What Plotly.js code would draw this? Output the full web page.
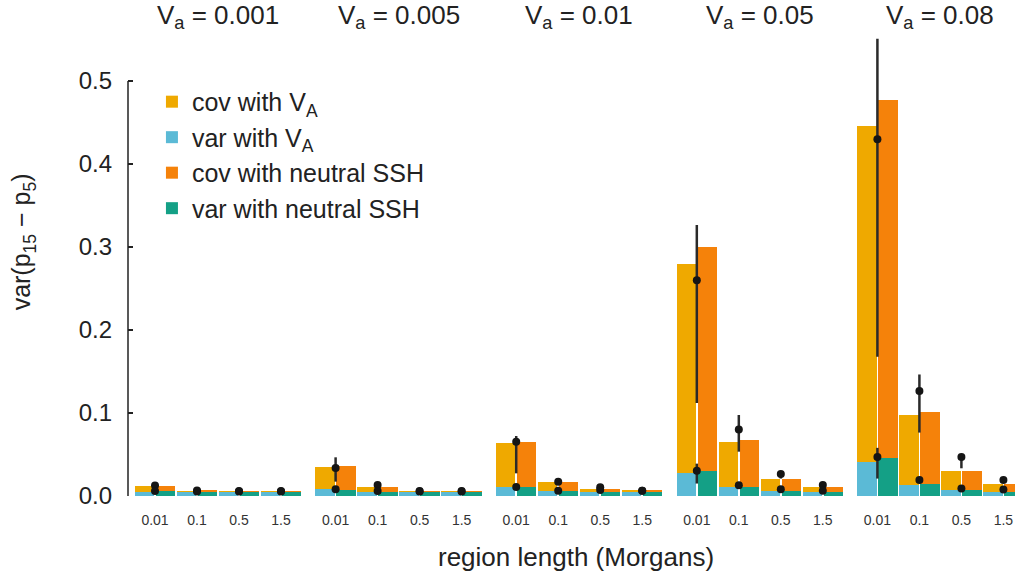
<!DOCTYPE html>
<html>
<head>
<meta charset="utf-8">
<script src="https://cdn.plot.ly/plotly-3.0.1.min.js"></script>
<style>html,body{margin:0;padding:0;background:#fff;}#chart{width:1015px;height:578px;}</style>
</head>
<body>
<div id="chart"></div>
<script>
// ---- data ----
const vaLabels = ['0.001', '0.005', '0.01', '0.05', '0.08'];
const regionLabels = ['0.01', '0.1', '0.5', '1.5'];

// stacked segments, listed group by group (V_a), 4 region lengths each
const varVA = [0.0050, 0.0048, 0.0048, 0.0048,
               0.0080, 0.0052, 0.0048, 0.0048,
               0.0104, 0.0060, 0.0052, 0.0052,
               0.0273, 0.0104, 0.0064, 0.0052,
               0.0404, 0.0131, 0.0070, 0.0050];
const covVA = [0.0070, 0.0016, 0.0008, 0.0008,
               0.0273, 0.0060, 0.0016, 0.0012,
               0.0539, 0.0105, 0.0032, 0.0020,
               0.2527, 0.0551, 0.0145, 0.0060,
               0.4056, 0.0843, 0.0236, 0.0093];
const varNeutral = [0.0056, 0.0048, 0.0048, 0.0048,
                    0.0076, 0.0052, 0.0048, 0.0048,
                    0.0104, 0.0060, 0.0052, 0.0052,
                    0.0305, 0.0112, 0.0064, 0.0052,
                    0.0457, 0.0139, 0.0078, 0.0052];
const covNeutral = [0.0064, 0.0020, 0.0008, 0.0008,
                    0.0285, 0.0060, 0.0016, 0.0012,
                    0.0546, 0.0105, 0.0032, 0.0020,
                    0.2691, 0.0563, 0.0146, 0.0060,
                    0.4317, 0.0876, 0.0228, 0.0091];

// observed points with error bars
const obsTotal = [0.0125, 0.0065, 0.0060, 0.0060,
                  0.0337, 0.0133, 0.0060, 0.0060,
                  0.0655, 0.0173, 0.0104, 0.0064,
                  0.2600, 0.0800, 0.0265, 0.0133,
                  0.4298, 0.1264, 0.0469, 0.0193];
const obsTotalPlus = [0.0025, 0, 0, 0,
                      0.0129, 0.0020, 0, 0,
                      0.0068, 0.0010, 0.0010, 0,
                      0.0665, 0.0176, 0.0035, 0.0010,
                      0.1210, 0.0200, 0.0030, 0.0010];
const obsTotalMinus = [0.0025, 0, 0, 0,
                       0.0164, 0.0020, 0, 0,
                       0.0382, 0.0010, 0.0010, 0,
                       0.1480, 0.0266, 0.0055, 0.0010,
                       0.2620, 0.0500, 0.0135, 0.0010];
const obsVar = [0.0060, 0.0055, 0.0055, 0.0055,
                0.0080, 0.0060, 0.0055, 0.0055,
                0.0108, 0.0064, 0.0072, 0.0064,
                0.0305, 0.0129, 0.0080, 0.0064,
                0.0470, 0.0193, 0.0090, 0.0078];
const obsVarPlus = [0, 0, 0, 0,
                    0, 0, 0, 0,
                    0.0015, 0, 0, 0,
                    0.0085, 0, 0, 0,
                    0.0110, 0.0010, 0, 0];
const obsVarMinus = [0, 0, 0, 0,
                     0, 0, 0, 0,
                     0.0015, 0, 0, 0,
                     0.0155, 0, 0, 0,
                     0.0260, 0.0020, 0, 0];

// ---- layout helpers ----
const GROUP_STEP = 4.3;   // slot units between groups
const HALF = 0.25;        // offset of each bar in a pair
const BAR_W = 0.46;
const centers = [];
vaLabels.forEach((v, g) => regionLabels.forEach((r, i) => centers.push(g * GROUP_STEP + i)));
const leftX = centers.map(c => c - HALF);
const rightX = centers.map(c => c + HALF);

const FONT = 'Liberation Sans, Arial, Helvetica, sans-serif';
const TXT = '#222222';

const C_COVVA = '#EFA900';
const C_VARVA = '#5BBAD6';
const C_COVN = '#F5820A';
const C_VARN = '#14A086';

function barTrace(name, x, y, color, rank) {
  return {type: 'bar', name: name, x: x, y: y, width: BAR_W,
          marker: {color: color, line: {width: 0}}, legendrank: rank,
          hoverinfo: 'y+name'};
}

const traces = [
  barTrace('var with V<sub>A</sub>', leftX, varVA, C_VARVA, 2),
  barTrace('cov with V<sub>A</sub>', leftX, covVA, C_COVVA, 1),
  barTrace('var with neutral SSH', rightX, varNeutral, C_VARN, 4),
  barTrace('cov with neutral SSH', rightX, covNeutral, C_COVN, 3),
  {type: 'scatter', mode: 'markers', x: centers, y: obsTotal, showlegend: false,
   marker: {color: '#151515', size: 8},
   error_y: {type: 'data', symmetric: false, array: obsTotalPlus, arrayminus: obsTotalMinus,
             color: '#2a2a2a', thickness: 2.5, width: 0}},
  {type: 'scatter', mode: 'markers', x: centers, y: obsVar, showlegend: false,
   marker: {color: '#151515', size: 8},
   error_y: {type: 'data', symmetric: false, array: obsVarPlus, arrayminus: obsVarMinus,
             color: '#2a2a2a', thickness: 2.5, width: 0}}
];

const yTicks = [0, 0.1, 0.2, 0.3, 0.4, 0.5];

const annotations = vaLabels.map((v, g) => ({
  xref: 'x', yref: 'paper', x: g * GROUP_STEP + 1.5, y: 1.028,
  xanchor: 'center', yanchor: 'middle', showarrow: false,
  text: 'V<sub>a</sub> = ' + v, font: {family: FONT, size: 26, color: TXT}
}));
annotations.push({
  xref: 'paper', yref: 'paper', x: 0.505, y: -0.131, xanchor: 'center', yanchor: 'middle',
  showarrow: false, text: 'region length (Morgans)', font: {family: FONT, size: 26, color: TXT}
});
annotations.push({
  xref: 'paper', yref: 'paper', x: -0.118, y: 0.545, xanchor: 'center', yanchor: 'middle',
  textangle: -90, showarrow: false, text: 'var(p<sub>15</sub> \u2212 p<sub>5</sub>)',
  font: {family: FONT, size: 25, color: TXT}
});

const layout = {
  width: 1015, height: 578,
  margin: {l: 128, r: 0, t: 30, b: 82},
  paper_bgcolor: '#ffffff', plot_bgcolor: '#ffffff',
  barmode: 'stack', bargap: 0,
  font: {family: FONT, color: TXT},
  showlegend: true,
  legend: {x: 0.027, y: 0.895, xanchor: 'left', yanchor: 'top', traceorder: 'normal',
           font: {family: FONT, size: 25, color: TXT}, bgcolor: 'rgba(0,0,0,0)',
           itemclick: false},
  xaxis: {range: [-0.643, 20.476], tickmode: 'array', tickvals: centers,
          ticktext: centers.map((c, k) => regionLabels[k % regionLabels.length]),
          ticks: 'outside', ticklen: 11, tickcolor: 'rgba(0,0,0,0)',
          tickfont: {family: FONT, size: 14, color: '#333'},
          showgrid: false, zeroline: false, showline: false, fixedrange: true},
  yaxis: {range: [0, 0.5614], tickmode: 'array', tickvals: yTicks,
          ticktext: yTicks.map(v => v.toFixed(1)),
          ticks: 'inside', ticklen: 5, tickwidth: 1.5, tickcolor: '#222',
          ticklabelstandoff: 15,
          tickfont: {family: FONT, size: 24, color: TXT},
          showgrid: false, zeroline: false, showline: false, fixedrange: true},
  shapes: [{type: 'line', xref: 'paper', yref: 'y', x0: 0, x1: 0, y0: 0, y1: 0.5,
            line: {color: '#222', width: 1.5}}],
  annotations: annotations
};

Plotly.newPlot('chart', traces, layout, {displayModeBar: false, staticPlot: true});
</script>
</body>
</html>
